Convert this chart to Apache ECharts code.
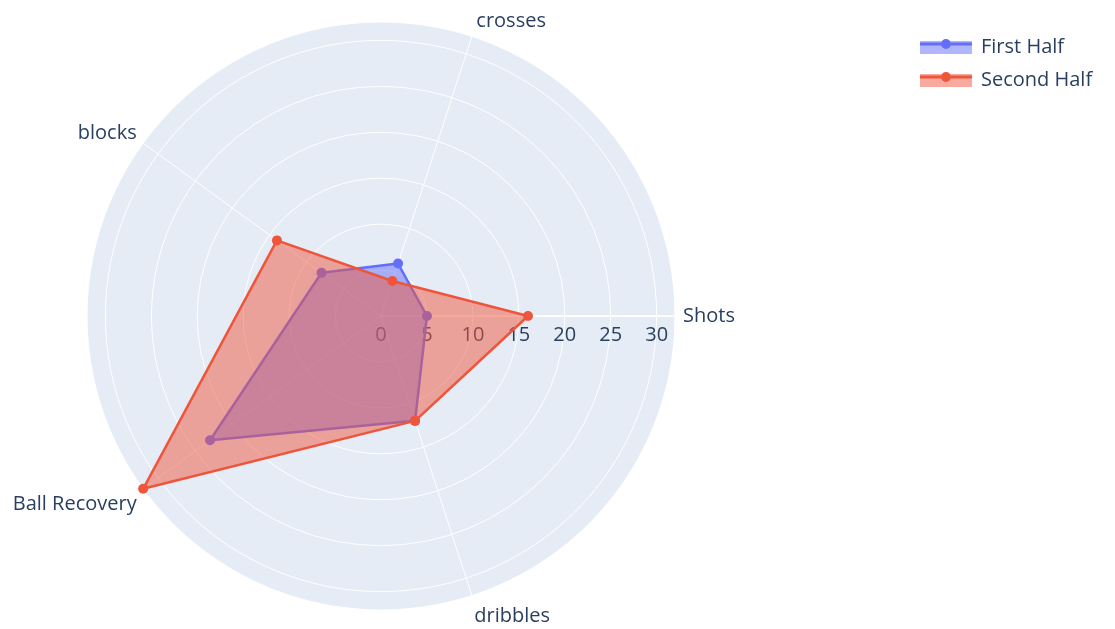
<!DOCTYPE html>
<html>
<head>
<meta charset="utf-8">
<script src="https://cdn.jsdelivr.net/npm/echarts@6/dist/echarts.min.js"></script>
<style>
  html, body { margin: 0; padding: 0; background: #fff; }
  #chart { width: 1115px; height: 629px; }
</style>
</head>
<body>
<div id="chart"></div>
<script>
// data
var categories = ['Shots', 'crosses', 'blocks', 'Ball Recovery', 'dribbles'];
var firstHalf = [5, 6, 8, 23, 12];
var secondHalf = [16, 4, 14, 32, 12];
var radialMax = 32;
var radialTicks = [0, 5, 10, 15, 20, 25, 30];

var blue = '#636EFA';
var red = '#EF553B';
var font = '"Open Sans", sans-serif';
var textColor = '#2a3f5f';
var fs = 20;
var cx = 381, cy = 316, R = 294;

// nudges so the angular labels sit where plotly puts them
var namePad = {
    'Shots': [0, 0, 0, 0],
    'crosses': [0, 0, 14, 2],
    'blocks': [0, 0, 10, 0],
    'Ball Recovery': [22, 0, 0, 0],
    'dribbles': [26, 0, 0, 0]
};

var chart = echarts.init(document.getElementById('chart'));

var legendBase = {
    orient: 'vertical',
    left: 920,
    top: 37,
    padding: 0,
    itemWidth: 52,
    itemHeight: 16,
    itemGap: 13,
    selectedMode: false,
    textStyle: { fontFamily: font, fontSize: fs, color: textColor, padding: [0, 0, 0, 4] }
};

var box = 'M0,0h0.01v0.01h-0.01z M52,16h0.01v0.01h-0.01z ';
var fillIcon = 'path://' + box + 'M0,2h52v13h-52z';
// line + marker part of the plotly style legend icon
var lineIcon = 'path://' + box +
    'M0,3.5h21v3h-21z M31,3.5h21v3h-21z M21,5a5,5 0 1,0 10,0a5,5 0 1,0 -10,0z';

var richNames = {};
categories.forEach(function (c, i) {
    richNames['n' + i] = { fontFamily: font, fontSize: fs, color: textColor, padding: namePad[c] };
});

var option = {
    backgroundColor: '#fff',
    textStyle: { fontFamily: font },
    legend: [
        Object.assign({}, legendBase, {
            icon: fillIcon,
            data: [
                { name: 'First Half', itemStyle: { color: 'rgba(99,110,250,0.5)' } },
                { name: 'Second Half', itemStyle: { color: 'rgba(239,85,59,0.5)' } }
            ]
        }),
        Object.assign({}, legendBase, {
            icon: lineIcon,
            textStyle: Object.assign({}, legendBase.textStyle, { color: 'rgba(0,0,0,0)' }),
            data: [
                { name: 'First Half', itemStyle: { color: blue } },
                { name: 'Second Half', itemStyle: { color: red } }
            ]
        })
    ],
    polar: { center: [cx, cy], radius: R },
    angleAxis: {
        type: 'value',
        min: 0,
        max: 360,
        startAngle: 0,
        clockwise: false,
        axisLine: { show: false },
        axisTick: { show: false },
        axisLabel: { show: false },
        splitLine: { show: false },
        splitArea: { show: true, areaStyle: { color: ['#E5ECF6'] } }
    },
    radiusAxis: {
        type: 'value',
        min: 0,
        max: radialMax,
        interval: 5,
        z: 3,
        axisLine: { show: true, lineStyle: { color: '#fff', width: 1.5 } },
        axisTick: { show: false },
        axisLabel: {
            show: true,
            fontFamily: font,
            fontSize: fs,
            color: textColor,
            margin: -9,
            verticalAlign: 'top',
            formatter: function (v) { return radialTicks.indexOf(v) >= 0 ? String(v) : ''; }
        },
        splitLine: { show: true, lineStyle: { color: '#fff', width: 1 } }
    },
    radar: {
        center: [cx, cy],
        radius: R,
        startAngle: 0,
        shape: 'circle',
        nameGap: 8,
        axisName: {
            fontFamily: font,
            fontSize: fs,
            color: textColor,
            formatter: function (name) {
                return '{n' + categories.indexOf(name) + '|' + name + '}';
            },
            rich: richNames
        },
        indicator: categories.map(function (c) { return { name: c, max: radialMax }; }),
        axisLine: { show: true, lineStyle: { color: '#fff', width: 1 } },
        splitLine: { show: false },
        splitArea: { show: false }
    },
    series: [
        {
            name: 'First Half',
            type: 'radar',
            z: 4,
            symbol: 'circle',
            symbolSize: 10,
            lineStyle: { color: blue, width: 2.5 },
            itemStyle: { color: blue },
            areaStyle: { color: blue, opacity: 0.5 },
            data: [{ name: 'First Half', value: firstHalf }]
        },
        {
            name: 'Second Half',
            type: 'radar',
            z: 5,
            symbol: 'circle',
            symbolSize: 10,
            lineStyle: { color: red, width: 2.5 },
            itemStyle: { color: red },
            areaStyle: { color: red, opacity: 0.5 },
            data: [{ name: 'Second Half', value: secondHalf }]
        }
    ]
};

chart.setOption(option);
</script>
</body>
</html>
